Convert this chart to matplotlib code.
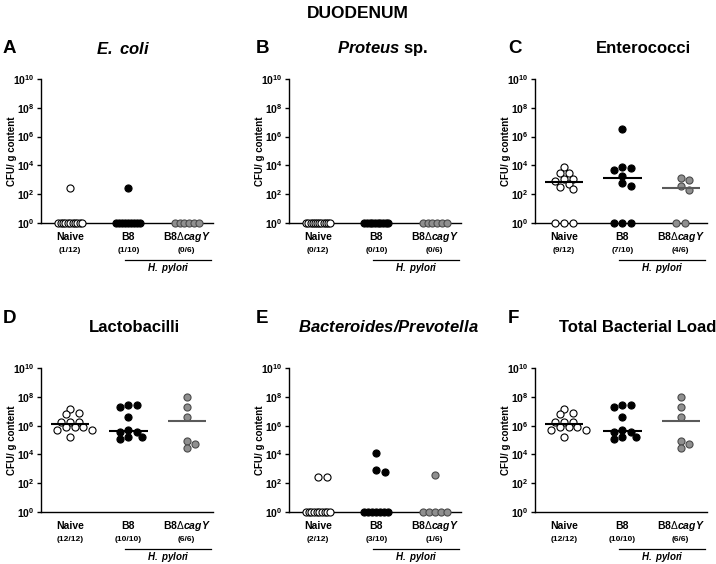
import numpy as np
import matplotlib
matplotlib.use("Agg")
import matplotlib.pyplot as plt

plt.rcParams['font.family'] = ['Liberation Sans', 'DejaVu Sans']
plt.rcParams['mathtext.fontset'] = 'custom'
plt.rcParams['mathtext.rm'] = 'Liberation Sans'
plt.rcParams['mathtext.bf'] = 'Liberation Sans:bold'
plt.rcParams['mathtext.it'] = 'Liberation Sans:italic'
plt.rcParams['mathtext.bfit'] = 'Liberation Sans:bold:italic'

# CFU / g content per mouse (0 = below detection, drawn on the 10^0 line)
ecoli_naive = [250, 0, 0, 0, 0, 0, 0, 0, 0, 0, 0, 0]
ecoli_b8 = [250, 0, 0, 0, 0, 0, 0, 0, 0, 0]
ecoli_cagy = [0, 0, 0, 0, 0, 0]

proteus_naive = [0, 0, 0, 0, 0, 0, 0, 0, 0, 0, 0, 0]
proteus_b8 = [0, 0, 0, 0, 0, 0, 0, 0, 0, 0]
proteus_cagy = [0, 0, 0, 0, 0, 0]

entero_naive = [7400, 2800, 2800, 1150, 1150, 870, 510, 300, 220, 0, 0, 0]
entero_b8 = [3400000, 8100, 6600, 4800, 1950, 630, 370, 0, 0, 0]
entero_cagy = [1350, 910, 370, 195, 0, 0]

lacto_naive = [13500000, 7900000, 6500000, 1860000, 1860000, 1860000,
               850000, 850000, 850000, 490000, 490000, 170000]
lacto_b8 = [27000000, 27000000, 18600000, 4200000, 500000,
            360000, 360000, 155000, 155000, 110000]
lacto_cagy = [100000000, 18600000, 3800000, 85000, 50000, 30000]

bact_naive = [260, 260, 0, 0, 0, 0, 0, 0, 0, 0, 0, 0]
bact_b8 = [13000, 830, 600, 0, 0, 0, 0, 0, 0, 0]
bact_cagy = [350, 0, 0, 0, 0, 0]

total_naive = [13500000, 7900000, 6500000, 1860000, 1860000, 1860000,
               850000, 850000, 850000, 490000, 490000, 170000]
total_b8 = [27000000, 27000000, 18600000, 4200000, 500000,
            360000, 360000, 155000, 155000, 110000]
total_cagy = [100000000, 18600000, 3800000, 85000, 50000, 30000]

group_labels = ['Naive', 'B8', r'B8$\Delta$$\mathbfit{cagY}$']
panel_letters = ['A', 'B', 'C', 'D', 'E', 'F']
panel_titles = [r'$\mathbfit{E.\ coli}$', r'$\mathbfit{Proteus}$ sp.', 'Enterococci',
                'Lactobacilli', r'$\mathbfit{Bacteroides/Prevotella}$', 'Total Bacterial Load']
panel_counts = [['(1/12)', '(1/10)', '(0/6)'],
                ['(0/12)', '(0/10)', '(0/6)'],
                ['(9/12)', '(7/10)', '(4/6)'],
                ['(12/12)', '(10/10)', '(6/6)'],
                ['(2/12)', '(3/10)', '(1/6)'],
                ['(12/12)', '(10/10)', '(6/6)']]
panel_data = [[ecoli_naive, ecoli_b8, ecoli_cagy],
              [proteus_naive, proteus_b8, proteus_cagy],
              [entero_naive, entero_b8, entero_cagy],
              [lacto_naive, lacto_b8, lacto_cagy],
              [bact_naive, bact_b8, bact_cagy],
              [total_naive, total_b8, total_cagy]]
ytick_exp = [0, 2, 4, 6, 8, 10]

face_colors = ['white', 'black', '#8f8f8f']
edge_colors = ['black', 'black', '#4a4a4a']
median_colors = ['black', 'black', '#5a5a5a']

W, H = 716, 564
fig = plt.figure(figsize=(W / 100, H / 100), dpi=100)

col_x = [41, 289, 535]
row_top = [79, 368]
ax_w, ax_h = 172, 144
title_x = [123, 383, 643, 134, 388, 638]
title_y = [48.5, 327]
letter_x = [3, 256, 508]
letter_y = [48.5, 318.5]
XMIN, XMAX = -0.5, 2.45


def swarm_offsets(ax, vals):
    """GraphPad-ish dot layout, in pixels."""
    vals = np.asarray(vals, float)
    shown = np.where(vals > 0, vals, 1.0)
    ypx = ax.transData.transform(np.column_stack([np.zeros(len(shown)), shown]))[:, 1]
    off = np.zeros(len(vals))
    zero = vals <= 0
    nz = int(zero.sum())
    if nz > 1:
        step = min(8.7, 24.0 / (nz - 1))
        off[zero] = (np.arange(nz) - (nz - 1) / 2) * step
    cands = [0.0]
    for k in range(1, 10):
        cands += [k * 4.35, -k * 4.35]
    placed = []
    idx = np.where(~zero)[0]
    idx = idx[np.argsort(-shown[idx], kind='stable')]
    for j in idx:
        for c in cands:
            if all(np.hypot(c - px, ypx[j] - py) >= 6.3 for px, py in placed):
                break
        off[j] = c
        placed.append((c, ypx[j]))
    return off, shown


for p in range(6):
    r, c = divmod(p, 3)
    left = col_x[c] / W
    bottom = (H - row_top[r] - ax_h) / H
    ax = fig.add_axes([left, bottom, ax_w / W, ax_h / H])
    ax.set_yscale('log')
    ax.set_ylim(1, 1e10)
    ax.set_xlim(XMIN, XMAX)
    for s in ['top', 'right']:
        ax.spines[s].set_visible(False)
    for s in ['left', 'bottom']:
        ax.spines[s].set_linewidth(1.0)
    ax.set_yticks([10.0 ** e for e in ytick_exp])
    ax.set_yticklabels([r'$\mathbf{10^{%d}}$' % e for e in ytick_exp], fontsize=7.5)
    ax.yaxis.set_minor_locator(matplotlib.ticker.NullLocator())
    ax.tick_params(axis='y', length=3, width=1, pad=1.5)
    ax.set_xticks([])
    ax.text(-29 / ax_w, 0.5, 'CFU/ g content', rotation=90, ha='center', va='center',
            fontsize=7, fontweight='bold', transform=ax.transAxes)

    px_to_x = (XMAX - XMIN) / ax_w
    for i, vals in enumerate(panel_data[p]):
        off, shown = swarm_offsets(ax, vals)
        ax.scatter(i + off * px_to_x, shown, s=26, facecolor=face_colors[i],
                   edgecolor=edge_colors[i], linewidth=0.8, zorder=3, clip_on=False)
        med = np.median(vals)
        if med > 0:
            ax.plot([i - 0.33, i + 0.33], [med, med], color=median_colors[i],
                    lw=1.5, zorder=4, solid_capstyle='butt')
        ax.annotate(group_labels[i], xy=(i, 0), xycoords=ax.get_xaxis_transform(),
                    xytext=(0, -10), textcoords='offset points', ha='center', va='center',
                    fontsize=7.5, fontweight='bold', annotation_clip=False)
        ax.annotate(panel_counts[p][i], xy=(i, 0), xycoords=ax.get_xaxis_transform(),
                    xytext=(0, -19.5), textcoords='offset points', ha='center', va='center',
                    fontsize=6, fontweight='bold', annotation_clip=False)

    ax.plot([0.94, 2.42], [-37 / ax_h] * 2, transform=ax.get_xaxis_transform(),
            color='black', lw=0.9, clip_on=False)
    ax.annotate(r'$\mathbfit{H.\ pylori}$', xy=(1.68, 0), xycoords=ax.get_xaxis_transform(),
                xytext=(0, -32.4), textcoords='offset points', ha='center', va='center',
                fontsize=7, annotation_clip=False)

    fig.text(letter_x[c] / W, 1 - letter_y[r] / H, panel_letters[p], ha='left', va='center',
             fontsize=13.5, fontweight='bold')
    fig.text(title_x[p] / W, 1 - title_y[r] / H, panel_titles[p], ha='center', va='center',
             fontsize=12, fontweight='bold')

fig.text(358 / W, 1 - 13 / H, 'DUODENUM', ha='center', va='center',
         fontsize=12.5, fontweight='bold')

fig.savefig('out.png', dpi=100)
